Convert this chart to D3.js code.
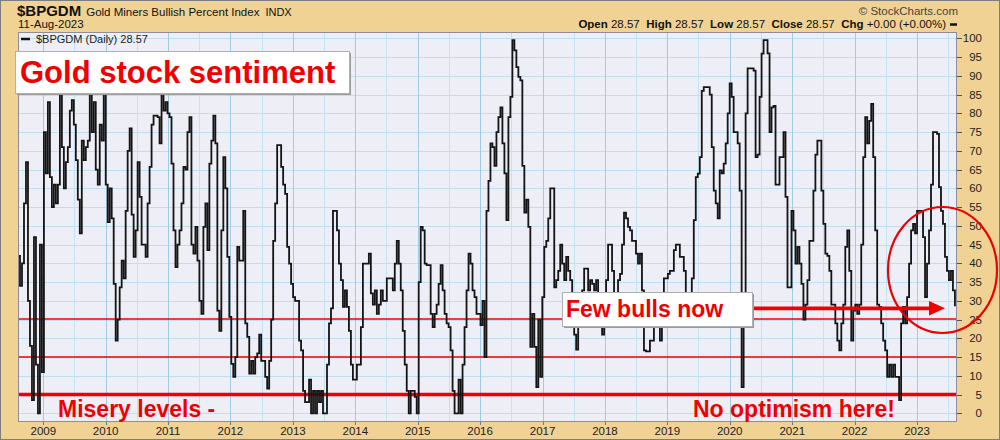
<!DOCTYPE html>
<html><head><meta charset="utf-8">
<script src="https://cdn.jsdelivr.net/npm/d3@7"></script>
<style>
body{margin:0;background:#fff}
svg{display:block}
text{font-family:"Liberation Sans",Arial,sans-serif}
</style>
</head><body>
<svg id="c" width="1000" height="440"></svg>
<script>
// ---- data ----
const startDate = "2008-08-06";
const endDate = "2023-08-11";
const bpi2008_2012 = [42,34,40,56,67,30,18,3.5,47,13,
 0,45,11,75,64,83,63,55,61,56,
 61,88,71,60,67,71,80.7,83.5,77,67.5,
 57,48,72.7,67.5,71,72.7,88,75,83,65,
 61,77,72.7,88,61,51,60,52,34.5,19.4,
 25,33.6,40.7,36,54,70,76,53,41.7,48.8,
 67,57.7,45,45,41.7,56,65.7,77,79.4,79.4,
 79,72,88,80.7,83,80,79,66.6,48.8,39,
 45,48.8,56,65.7,65,75,79,45,42.6,49.7,
 40.7,30,26.5,49.7,56,43.5,66.6,72.7,79.4,72,
 27.4,22,48.8,68.3,60,41.7,25.7,13.2,9.7,15,
 44.4,40.7,40.7,54,24,20.4,10.6,14,10.6];
const bpi2012_2016 = [15,16,21,14,14,9.7,6.6,14,25,46,
 56,71.5,71.5,65.7,61,58.5,44.4,39.9,34.5,31,
 30,30,19.4,16.8,6,3,3,9,0,6,
 0,6,3,6,0,0,13,24,28,54,
 54,48.8,39.9,35.5,28.4,32.8,28.4,22,13,9,
 9,13,13,23,39.9,39.9,39.9,42.6,32,29,
 32.8,26.5,29,32.8,30,30,36,36,36,32.8,
 39.9,46,39.9,32.8,22,13,6,0,6,6,
 4.4,0,35,49.7,48.8,39.9,39.5,39.5,26.5,23,
 26.5,29,34.5,39.5,32.8,26.5,24,23,16.8,6,
 0,0,9,0,13,23,32.8,42.6,39.9,32.8,
 31,26.5,26.5,23.5,30,15,54,62,72];
const bpi2016_2019 = [71,66,75,79,81.6,72,64,51.5,79,84.4,
 99.5,96.8,92.3,89.7,88.8,66,53.5,57,49.7,17.7,
 26.5,17.7,7,25,9.7,31,44.4,46,52,60,
 60,33.6,35.5,38,45,39.9,35.5,41.7,38,35.5,
 26.5,21,17,25,31,32.8,38.6,38.6,32.8,35.5,
 34.5,32.8,35.5,31,26.5,21,26.5,35.5,45,45,
 38,32,31,35.5,37.2,45,53.5,52,49.7,48.8,
 46,46,42.6,39.9,42.6,32.8,16.8,16.5,16.5,19.4,
 19.4,23,25,23,19.4,25,36,36,37.2,38,
 38,43.5,45,45,41.7,41.7,38,32,27,23,
 36,51.5,63,63.9,68.3,86,87,87,87,85,
 71,59.4,56,52,64.8,64,66.6,72];
const bpi2019_2023 = [80,88,84.4,75,75,72,59.4,7,30,80,
 92,92,92,91.4,68.3,69,84.4,95.9,99.5,99.5,
 96,75,81.6,82,61,61,68.3,68.3,75,57.7,
 33.6,33.6,54,48.8,39.9,44.4,39.9,34.5,25,29,
 35.5,46,46,59.4,69,72.7,72.7,59.4,50.5,42.6,
 42,38,29,29,24,19.4,16.8,24,29,44.4,
 48.8,38,19.4,27.4,29,26.5,29,45,68.3,79,
 72,78,82.5,68.3,48.8,29,28.4,24,19.4,16.8,
 9.7,13,9.7,13,9.7,9.7,3.5,24,28.4,24,
 31,39.9,48.8,50.5,48,54,54,54,47,31,
 39.9,48.8,61,75,75,74.5,60.3,54,50.5,41.7,
 38,35.5,38,32.8,28.57];
const yTicks = [0,5,10,15,20,25,30,35,40,45,50,55,60,65,70,75,80,85,90,95,100];
const yearLabels = ["2009","2010","2011","2012","2013","2014","2015","2016","2017","2018","2019","2020","2021","2022","2023"];
const redLevels = [5,15,25];
const lastValue = 28.57;

// ---- layout ----
const W = 1000, H = 440;
const P = {l:18, r:957, t:32, b:422};
const svg = d3.select("#c");
const RED = "#f00000";

const x = d3.scaleTime().domain([new Date(2009,0,1), new Date(2023,0,1)]).range([43.3, 917]);
const y = d3.scaleLinear().domain([0,100]).range([413.3, 38.3]);
const snap = v => Math.round(v) + 0.5;
const pair = v => 2 * Math.round((v - 1) / 2) + 1;

const values = bpi2008_2012.concat(bpi2012_2016, bpi2016_2019, bpi2019_2023);
const t0 = new Date(startDate + "T00:00:00").getTime(), t1 = new Date(endDate + "T00:00:00").getTime();
const series = values.map((v,i) => ({date: new Date(t0 + (t1-t0)*i/(values.length-1)), v}));

// background
svg.append("rect").attr("x",0.5).attr("y",0.5).attr("width",W-1).attr("height",H-1)
  .attr("fill","#f0d294").attr("stroke","#7d7d7d").attr("stroke-width",1);

// plot area
svg.append("rect").attr("x",P.l).attr("y",P.t).attr("width",P.r-P.l).attr("height",P.b-P.t)
  .attr("fill","#eeeef6");

svg.append("clipPath").attr("id","clip").append("rect")
  .attr("x",P.l).attr("y",P.t).attr("width",P.r-P.l).attr("height",P.b-P.t);

const g = svg.append("g").attr("clip-path","url(#clip)");

// grid
g.selectAll("line.hg").data(yTicks).join("line").attr("class","hg")
  .attr("x1",P.l).attr("x2",P.r).attr("y1",d=>snap(y(d))).attr("y2",d=>snap(y(d)))
  .attr("stroke","#bfdff0").attr("stroke-width",1);
const halfYears = d3.timeMonth.every(6).range(new Date(2008,6,1), new Date(2024,0,2));
g.selectAll("line.vg").data(halfYears).join("line").attr("class","vg")
  .attr("x1",d=>snap(x(d))).attr("x2",d=>snap(x(d))).attr("y1",P.t).attr("y2",P.b)
  .attr("stroke",d=>d.getMonth()===0 ? "#9fcbe6" : "#c3e2f2").attr("stroke-width",1);

// red reference levels
g.selectAll("line.lvl").data(redLevels).join("line").attr("class","lvl")
  .attr("x1",P.l).attr("x2",P.r)
  .attr("y1",d=>d===5 ? y(d) : pair(y(d))).attr("y2",d=>d===5 ? y(d) : pair(y(d)))
  .attr("stroke",RED).attr("stroke-width",d=>d===5 ? 3.6 : 1.5);

// series line
g.append("path").datum(series)
  .attr("d", d3.line().curve(d3.curveStepAfter).x(d=>x(d.date)).y(d=>y(d.v)))
  .attr("fill","none").attr("stroke","#141414").attr("stroke-width",1.8).attr("stroke-linejoin","miter");

// plot border
svg.append("rect").attr("x",P.l+0.5).attr("y",P.t+0.5).attr("width",P.r-P.l-1).attr("height",P.b-P.t-1)
  .attr("fill","none").attr("stroke","#8c8c9c");

// y axis (right)
const ya = svg.append("g");
ya.selectAll("line").data(yTicks).join("line")
  .attr("x1",P.r).attr("x2",P.r+5).attr("y1",d=>snap(y(d))).attr("y2",d=>snap(y(d)))
  .attr("stroke","#555");
ya.selectAll("text").data(yTicks).join("text")
  .attr("x",982).attr("y",d=>y(d)).attr("dy","0.36em").attr("text-anchor","end")
  .attr("font-size",11.5).attr("fill","#222").text(d=>d);

// x axis labels
const xa = svg.append("g");
xa.selectAll("line").data(yearLabels).join("line")
  .attr("x1",d=>snap(x(new Date(+d,0,1)))).attr("x2",d=>snap(x(new Date(+d,0,1))))
  .attr("y1",P.b).attr("y2",P.b+3).attr("stroke","#777");
xa.selectAll("text").data(yearLabels).join("text")
  .attr("x",d=>x(new Date(+d,0,1))).attr("y",435).attr("text-anchor","middle")
  .attr("font-size",11.5).attr("fill","#222").text(d=>d);

// header
const hd = svg.append("text").attr("x",17).attr("y",16).attr("fill","#111");
hd.append("tspan").attr("font-size",15).attr("font-weight","bold").text("$BPGDM");
hd.append("tspan").attr("dx",5).attr("font-size",11.5).text("Gold Miners Bullish Percent Index");
hd.append("tspan").attr("dx",6).attr("font-size",11).text("INDX");
svg.append("text").attr("x",18).attr("y",28).attr("font-size",11.5).attr("fill","#111").text("11-Aug-2023");
svg.append("text").attr("x",958).attr("y",15).attr("text-anchor","end").attr("font-size",11.5).attr("fill","#444").text("© StockCharts.com");
const ohlc = svg.append("text").attr("x",946).attr("y",28).attr("text-anchor","end").attr("font-size",11.5).attr("fill","#111");
[["Open"," 28.57  "],["High"," 28.57  "],["Low"," 28.57  "],["Close"," 28.57  "],["Chg"," +0.00 (+0.00%)"]].forEach(([a,b])=>{
  ohlc.append("tspan").attr("font-weight","bold").text(a);
  ohlc.append("tspan").attr("xml:space","preserve").style("white-space","pre").text(b);
});
svg.append("line").attr("x1",950).attr("x2",957).attr("y1",24.5).attr("y2",24.5).attr("stroke","#111").attr("stroke-width",2.5);

// legend
svg.append("line").attr("x1",21).attr("x2",30).attr("y1",39).attr("y2",39).attr("stroke","#111").attr("stroke-width",2.5);
svg.append("text").attr("x",36).attr("y",43).attr("font-family","'DejaVu Sans Mono',monospace")
  .attr("font-size",11).attr("fill","#222").text("$BPGDM (Daily) " + lastValue.toFixed(2));

// annotation boxes
function box(x0,y0,w,h){
  svg.append("rect").attr("x",x0+2).attr("y",y0+2).attr("width",w).attr("height",h).attr("fill","#9a9a9a");
  svg.append("rect").attr("x",x0+0.5).attr("y",y0+0.5).attr("width",w).attr("height",h).attr("fill","#fff").attr("stroke","#b0b0b0");
}
box(15,51,334,42);
svg.append("text").attr("x",20).attr("y",83).attr("font-size",31).attr("font-weight","bold").attr("fill",RED).text("Gold stock sentiment");

// circle and arrow
svg.append("ellipse").attr("cx",942.5).attr("cy",270).attr("rx",54.5).attr("ry",63)
  .attr("fill","none").attr("stroke",RED).attr("stroke-width",2.2);
const ay = y(28);
svg.append("line").attr("x1",752).attr("x2",932).attr("y1",ay).attr("y2",ay).attr("stroke",RED).attr("stroke-width",3.8);
svg.append("path").attr("d",`M929,${ay-7.3}L945,${ay}L929,${ay+7.3}Z`).attr("fill",RED);

box(562,292,190,34);
svg.append("text").attr("x",566).attr("y",317).attr("font-size",23).attr("font-weight","bold").attr("fill",RED).text("Few bulls now");

svg.append("text").attr("x",58).attr("y",417).attr("font-size",23).attr("font-weight","bold").attr("fill",RED).text("Misery levels -");
svg.append("text").attr("x",693).attr("y",417).attr("font-size",23).attr("font-weight","bold").attr("fill",RED).text("No optimism here!");
</script>
</body></html>
